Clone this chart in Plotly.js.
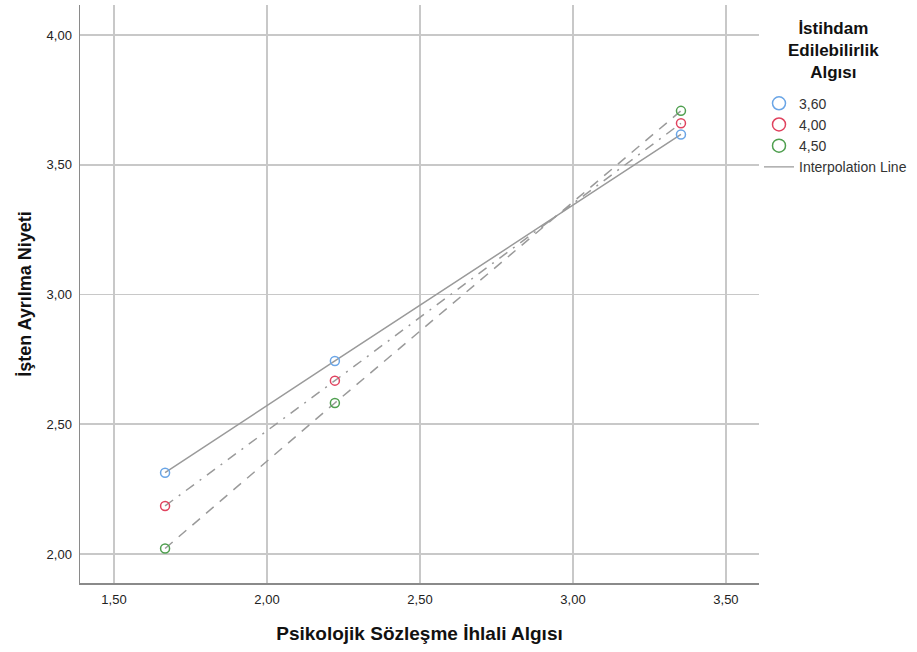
<!DOCTYPE html>
<html>
<head>
<meta charset="utf-8">
<script src="https://cdn.plot.ly/plotly-3.0.1.min.js"></script>
<style>html,body{margin:0;padding:0;background:#fff;}#chart{width:917px;height:652px;}</style>
</head>
<body>
<div id="chart"></div>
<script>
// Data
const xValues = [1.667, 2.222, 3.353];
const groupNames = ["3,60", "4,00", "4,50"];
const yBlue = [2.313, 2.744, 3.617];
const yRed = [2.185, 2.668, 3.660];
const yGreen = [2.021, 2.582, 3.708];
const xTicks = [1.5, 2.0, 2.5, 3.0, 3.5];
const xTickLabels = ["1,50", "2,00", "2,50", "3,00", "3,50"];
const yTicks = [2.0, 2.5, 3.0, 3.5, 4.0];
const yTickLabels = ["2,00", "2,50", "3,00", "3,50", "4,00"];
const legendTitle = "İstihdam<br>Edilebilirlik<br>Algısı";

const seriesY = [yBlue, yRed, yGreen];
const markerColors = ["#6aa5e6", "#e0435f", "#4f9f4f"];
const dashes = ["solid", "10px,7px,2px,7px", "10px,8px"];
const lineColor = "#9a9a9a";

const traces = [];
seriesY.forEach((ys, i) => {
  traces.push({
    x: xValues, y: ys, mode: "lines", type: "scatter",
    line: {color: lineColor, width: 1.5, dash: dashes[i]},
    showlegend: false, hoverinfo: "skip"
  });
});
seriesY.forEach((ys, i) => {
  traces.push({
    x: xValues, y: ys, mode: "markers", type: "scatter", name: groupNames[i],
    showlegend: false,
    marker: {symbol: "circle-open", size: 9, color: markerColors[i], line: {width: 1.5, color: markerColors[i]}}
  });
});
// legend entries (larger symbols, as in the reference legend)
seriesY.forEach((ys, i) => {
  traces.push({
    x: [null], y: [null], mode: "markers", type: "scatter", name: groupNames[i],
    marker: {symbol: "circle-open", size: 13, color: markerColors[i], line: {width: 1.5, color: markerColors[i]}}
  });
});
traces.push({
  x: [null], y: [null], mode: "lines", type: "scatter", name: "Interpolation Line",
  line: {color: lineColor, width: 1.3}
});

const font = "'Liberation Sans', Arial, sans-serif";
const layout = {
  width: 917, height: 652,
  margin: {l: 80, r: 158, t: 5, b: 69},
  paper_bgcolor: "#ffffff", plot_bgcolor: "#ffffff",
  font: {family: font, color: "#222"},
  xaxis: {
    range: [1.389, 3.608], tickvals: xTicks, ticktext: xTickLabels,
    showgrid: true, gridcolor: "#c8c8c8", gridwidth: 1.5, zeroline: false,
    showline: true, linecolor: "#8a8a8a", linewidth: 1.5,
    ticks: "outside", ticklen: 4, tickcolor: "rgba(0,0,0,0)",
    tickfont: {size: 13, family: font, color: "#222"},
    title: {text: "Psikolojik Sözleşme İhlali Algısı", font: {size: 19, family: font, color: "#111", weight: "bold"}, standoff: 20}
  },
  yaxis: {
    range: [1.888, 4.116], tickvals: yTicks, ticktext: yTickLabels,
    showgrid: true, gridcolor: "#c8c8c8", gridwidth: 1.5, zeroline: false,
    showline: true, linecolor: "#8a8a8a", linewidth: 1.5,
    ticks: "outside", ticklen: 4, tickcolor: "rgba(0,0,0,0)",
    tickfont: {size: 13, family: font, color: "#222"},
    title: {text: "İşten Ayrılma Niyeti", font: {size: 18, family: font, color: "#111", weight: "bold"}, standoff: 10}
  },
  legend: {
    x: 1.0, xanchor: "left", y: 0.857, yanchor: "top",
    font: {size: 14, family: font, color: "#333"},
    tracegroupgap: 0,
    bgcolor: "rgba(0,0,0,0)"
  },
  annotations: [{
    text: "<b>" + legendTitle + "</b>", xref: "paper", yref: "paper",
    x: 1.109, y: 0.98, xanchor: "center", yanchor: "top", align: "center",
    showarrow: false, font: {size: 17, family: font, color: "#111"}
  }],
  showlegend: true
};

Plotly.newPlot("chart", traces, layout, {displayModeBar: false, staticPlot: true});
</script>
</body>
</html>
